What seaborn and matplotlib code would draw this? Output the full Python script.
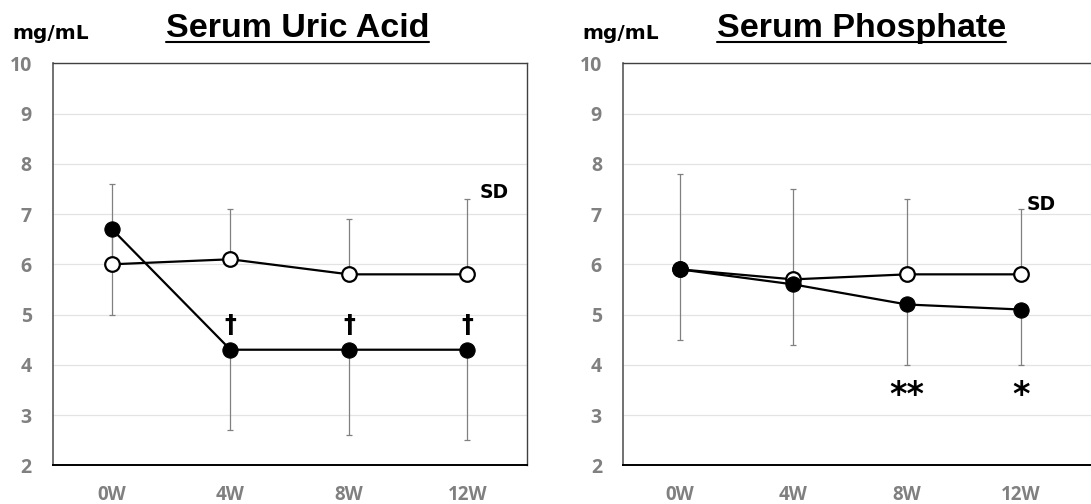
import pandas as pd
import matplotlib.pyplot as plt
import seaborn as sns
from matplotlib.lines import Line2D

# ==============================================
# DATOS
# ==============================================
semanas = ['0W', '4W', '8W', '12W']

# Acido urico
urico_abierto = [6.0, 6.1, 5.8, 5.8]
urico_abierto_sd = [1.6, 1.0, 1.1, 1.5]      # solo hacia arriba
urico_lleno = [6.7, 4.3, 4.3, 4.3]
urico_lleno_sd = [1.7, 1.6, 1.7, 1.8]        # solo hacia abajo
urico_marcas = ['', '\u2020', '\u2020', '\u2020']

# Fosfato
fosfato_abierto = [5.9, 5.7, 5.8, 5.8]
fosfato_abierto_sd = [1.9, 1.8, 1.5, 1.3]
fosfato_lleno = [5.9, 5.6, 5.2, 5.1]
fosfato_lleno_sd = [1.4, 1.2, 1.2, 1.1]
fosfato_marcas = ['', '', '**', '*']

GRIS = '#808080'

sns.set_style('white')
plt.rcParams['font.family'] = ['DejaVu Sans']

fig = plt.figure(figsize=(10.91, 5.04), dpi=100)
ax1 = fig.add_axes([0.0483, 0.0768, 0.4345, 0.7976])
ax2 = fig.add_axes([0.5708, 0.0768, 0.4357, 0.7976])


def panel(ax, titulo, abierto, abierto_sd, lleno, lleno_sd, marcas,
          y_marca, tam_marca, y_sd, x_sd, x_titulo):
    df_a = pd.DataFrame({'semana': semanas, 'valor': abierto})
    df_l = pd.DataFrame({'semana': semanas, 'valor': lleno})

    # barras SD (abierto hacia arriba, lleno hacia abajo)
    ax.errorbar(semanas, abierto, yerr=[[0] * 4, abierto_sd], fmt='none',
                ecolor=GRIS, elinewidth=0.9, capsize=2.3, capthick=0.9, zorder=2)
    ax.errorbar(semanas, lleno, yerr=[lleno_sd, [0] * 4], fmt='none',
                ecolor=GRIS, elinewidth=0.9, capsize=2.3, capthick=0.9, zorder=2)

    sns.lineplot(data=df_a, x='semana', y='valor', ax=ax, sort=False, color='black',
                 linewidth=1.6, marker='o', markersize=10.5, markerfacecolor='white',
                 markeredgecolor='black', markeredgewidth=1.6, zorder=3)
    sns.lineplot(data=df_l, x='semana', y='valor', ax=ax, sort=False, color='black',
                 linewidth=1.6, marker='o', markersize=11, markerfacecolor='black',
                 markeredgecolor='black', zorder=4)

    # marcas de significancia
    for i, m in enumerate(marcas):
        if m:
            ax.text(i, y_marca, m, ha='center', va='baseline', fontsize=tam_marca,
                    fontweight='bold', color='black')

    ax.text(x_sd, y_sd, 'SD', ha='left', va='center', fontsize=13.5,
            fontweight='bold', color='black')

    ax.set_xlim(-0.5, 3.5)
    ax.set_ylim(2, 10)
    ax.set_yticks(range(2, 11))
    ax.set_xlabel('')
    ax.set_ylabel('')
    ax.yaxis.grid(True, color='#e3e3e3', linewidth=0.9)
    ax.xaxis.grid(False)
    ax.set_axisbelow(True)
    ax.tick_params(axis='y', length=0, pad=15, labelsize=14, labelcolor=GRIS)
    ax.tick_params(axis='x', length=0, pad=14, labelsize=13.5, labelcolor=GRIS)
    for lab in ax.get_xticklabels() + ax.get_yticklabels():
        lab.set_fontweight('bold')
        lab.set_family('Open Sans')

    ax.spines['left'].set_color('#595959')
    ax.spines['left'].set_linewidth(1.2)
    ax.spines['bottom'].set_color('black')
    ax.spines['bottom'].set_linewidth(1.4)
    ax.spines['top'].set_color('#404040')
    ax.spines['top'].set_linewidth(1.0)
    ax.spines['right'].set_color('#404040')
    ax.spines['right'].set_linewidth(1.0)

    ax.text(-0.085, 1.06, 'mg/mL', transform=ax.transAxes, ha='left',
            va='baseline', fontsize=14.5, fontweight='bold', color='black')
    t = ax.text(x_titulo, 1.065, titulo, transform=ax.transAxes, ha='center',
                va='baseline', fontsize=24.5, family='Liberation Sans',
                fontweight='bold', color='black')
    return t


t1 = panel(ax1, 'Serum Uric Acid', urico_abierto, urico_abierto_sd, urico_lleno,
           urico_lleno_sd, urico_marcas, 4.65, 17, 7.42, 3.1, 0.516)
t2 = panel(ax2, 'Serum Phosphate', fosfato_abierto, fosfato_abierto_sd, fosfato_lleno,
           fosfato_lleno_sd, fosfato_marcas, 3.2, 24, 7.19, 3.05, 0.503)
ax2.set_xlim(-0.5, 3.68)

# subrayado de los titulos
fig.canvas.draw()
r = fig.canvas.get_renderer()
W, H = fig.bbox.width, fig.bbox.height
for ax, t in [(ax1, t1), (ax2, t2)]:
    bb = t.get_window_extent(r)
    yb = ax.transAxes.transform((0, 1.065))[1] - 4.5
    fig.add_artist(Line2D([bb.x0 / W, bb.x1 / W], [yb / H, yb / H],
                          transform=fig.transFigure, color='black', linewidth=1.5))

fig.savefig('out.png', dpi=100)
